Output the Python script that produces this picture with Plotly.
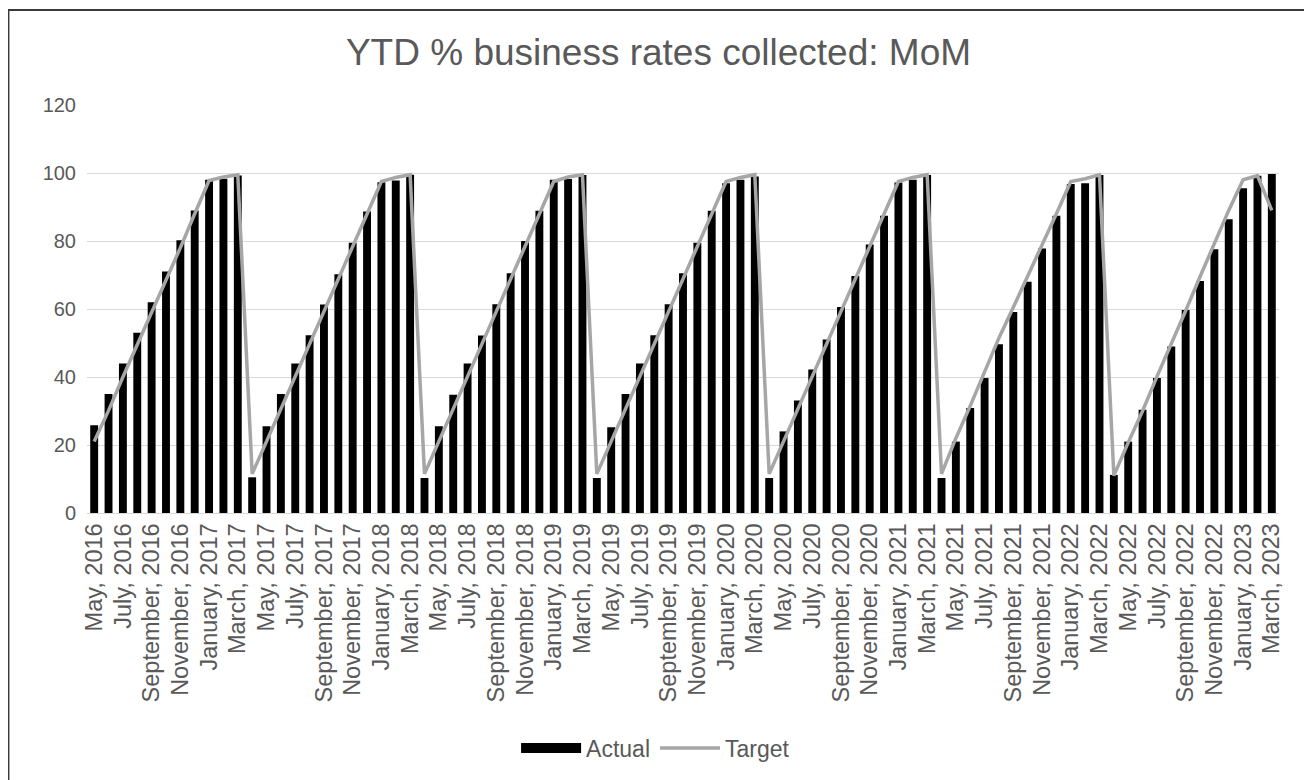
import pandas as pd
import plotly.graph_objects as go

# Categories: monthly, May 2016 .. March 2023
months = pd.date_range("2016-05-01", "2023-03-01", freq="MS")
categories = [f"{d.strftime('%B')}, {d.year}" for d in months]

# Actual YTD % collected
actual = [
    25.8, 35.0, 44.0, 53.0, 62.0, 71.0, 80.2, 89.0, 98.0, 98.3, 99.3,
    10.5, 25.5, 35.0, 44.0, 52.3, 61.3, 70.2, 79.5, 88.7, 97.3, 97.8, 99.5,
    10.3, 25.5, 34.8, 44.0, 52.2, 61.4, 70.5, 80.0, 88.9, 98.0, 98.2, 99.4,
    10.3, 25.2, 35.0, 44.0, 52.3, 61.4, 70.5, 79.5, 88.9, 97.0, 98.0, 99.0,
    10.3, 24.0, 33.1, 42.2, 51.0, 60.6, 69.7, 79.0, 87.4, 97.2, 98.0, 99.4,
    10.3, 21.0, 30.9, 39.7, 49.6, 59.1, 68.0, 77.8, 87.4, 96.8, 97.0, 99.4,
    11.2, 21.0, 30.4, 39.7, 49.0, 59.7, 68.2, 77.6, 86.4, 95.5, 99.2, 99.7,
]

# Target YTD %
target = [
    21.0, 30.1, 40.0, 49.5, 58.5, 68.5, 78.0, 88.0, 97.8, 98.8, 99.5,
    11.5, 21.0, 30.5, 40.0, 49.5, 59.0, 68.5, 78.0, 87.5, 97.5, 98.7, 99.5,
    11.5, 21.0, 30.5, 40.0, 49.5, 59.0, 68.5, 78.0, 87.8, 97.5, 98.8, 99.5,
    11.5, 21.0, 30.5, 40.0, 49.5, 59.0, 68.5, 78.0, 87.8, 97.5, 98.7, 99.5,
    11.5, 21.0, 30.5, 40.0, 49.5, 59.0, 68.5, 78.5, 88.0, 97.5, 98.7, 99.5,
    11.5, 22.0, 31.5, 41.5, 51.5, 60.5, 69.5, 78.5, 88.0, 97.5, 98.3, 99.5,
    11.0, 20.7, 30.0, 40.1, 49.5, 59.5, 69.5, 79.5, 89.0, 98.0, 99.2, 89.0,
]

tick_vals = categories[::2]
y_ticks = [0, 20, 40, 60, 80, 100, 120]

TXT = "#595959"
FONT = "Liberation Sans, Arial, sans-serif"

fig = go.Figure()
fig.add_trace(go.Bar(x=categories, y=actual, name="Actual",
                     marker=dict(color="#000000", line=dict(width=0)),
                     showlegend=False))
fig.add_trace(go.Scatter(x=categories, y=target, name="Target", mode="lines",
                         line=dict(color="#A6A6A6", width=3.5), legendrank=2))
# legend-only entry to mimic the wide rectangular legend key
fig.add_trace(go.Scatter(x=[None], y=[None], name="Actual", mode="lines",
                         line=dict(color="#000000", width=12), legendrank=1))

fig.update_layout(
    width=1312, height=780,
    margin=dict(l=79, r=41, t=97, b=275),
    paper_bgcolor="white", plot_bgcolor="white",
    font=dict(family=FONT, color=TXT, size=21),
    title=dict(text="YTD % business rates collected: MoM",
               x=0.4958, xref="container", y=0.9436, yref="container",
               xanchor="center", yanchor="middle",
               font=dict(size=37, color=TXT, family=FONT)),
    bargap=0.45,
    showlegend=True,
    legend=dict(orientation="h", x=0.477, xanchor="center",
                y=-0.576, yanchor="middle", font=dict(size=23, color=TXT),
                itemwidth=60, traceorder="normal", tracegroupgap=0,
                bgcolor="rgba(0,0,0,0)"),
    xaxis=dict(type="category", tickmode="array", tickvals=tick_vals,
               ticktext=tick_vals, tickangle=-90, showgrid=False,
               showline=True, linecolor="#D9D9D9", linewidth=1,
               ticks="", tickfont=dict(size=23.5, color=TXT),
               range=[-0.5, len(categories) - 0.5]),
    yaxis=dict(range=[0, 120], tickvals=y_ticks, showgrid=True,
               gridcolor="#D9D9D9", gridwidth=1, zeroline=False,
               showline=False, ticks="", tickfont=dict(size=20, color=TXT),
               ticklabelstandoff=10),
    shapes=[dict(type="rect", xref="paper", yref="paper",
                 x0=-0.0659, x1=1.0227, y0=-0.70, y1=1.233,
                 line=dict(color="#3a3a3a", width=2), layer="above")],
)

fig.write_html("out.html")
